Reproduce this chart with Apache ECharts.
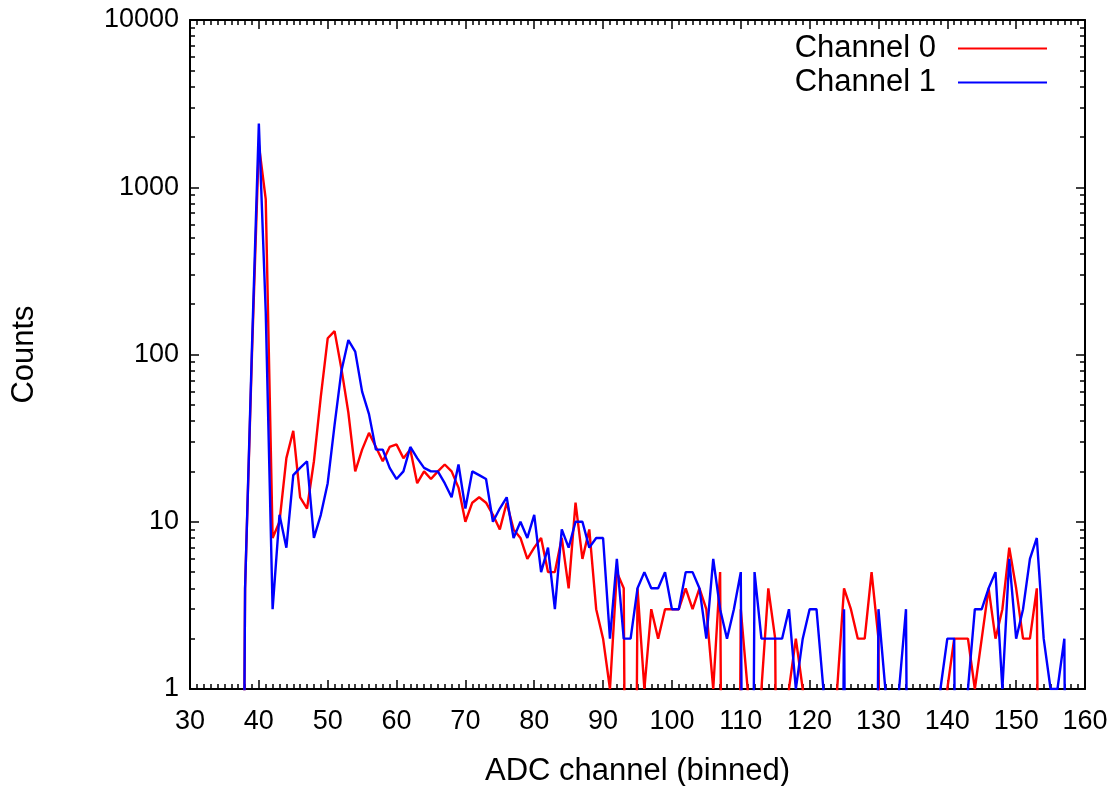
<!DOCTYPE html>
<html>
<head>
<meta charset="utf-8">
<script src="https://cdn.jsdelivr.net/npm/echarts@6/dist/echarts.min.js"></script>
<style>
  html, body { margin: 0; padding: 0; background: #fff; }
  #chart { width: 1120px; height: 786px; }
</style>
</head>
<body>
<div id="chart"></div>
<script>
// counts per binned ADC channel, starting at channel 37
const firstChannel = 37;
const channel0 = [
  0, 4, 100, 1800, 850, 8, 10, 24, 35, 14,
  12, 23, 56, 125, 138, 82, 45, 20, 27, 34,
  28, 23, 28, 29, 24, 27, 17, 20, 18, 20,
  22, 20, 16, 10, 13, 14, 13, 11, 9, 13,
  9, 8, 6, 7, 8, 5, 5, 8, 4, 13,
  6, 9, 3, 2, 1, 5, 4, 0, 4, 1,
  3, 2, 3, 3, 3, 4, 3, 4, 3, 1,
  5, 0, 0, 3, 1, 0, 1, 4, 2, 0,
  1, 2, 1, 0, 0, 0, 0, 1, 4, 3,
  2, 2, 5, 2, 0, 0, 0, 0, 0, 0,
  0, 0, 0, 1, 2, 2, 2, 1, 2, 4,
  2, 3, 7, 4, 2, 2, 4, 0, 0, 0,
  0, 0
];
const channel1 = [
  0, 4, 110, 2400, 180, 3, 11, 7, 19, 21,
  23, 8, 11, 17, 38, 80, 122, 104, 60, 44,
  27, 27, 21, 18, 20, 28, 24, 21, 20, 20,
  17, 14, 22, 12, 20, 19, 18, 10, 12, 14,
  8, 10, 8, 11, 5, 7, 3, 9, 7, 10,
  10, 7, 8, 8, 2, 6, 2, 2, 4, 5,
  4, 4, 5, 3, 3, 5, 5, 4, 2, 6,
  3, 2, 3, 5, 0, 5, 2, 2, 2, 2,
  3, 1, 2, 3, 3, 1, 0, 0, 3, 0,
  0, 0, 0, 3, 1, 0, 1, 3, 0, 0,
  0, 0, 1, 2, 2, 0, 1, 3, 3, 4,
  5, 1, 6, 2, 3, 6, 8, 2, 1, 1,
  2, 0
];
const seriesNames = ['Channel 0', 'Channel 1'];
const yMinorTicks = [
  2, 3, 4, 5, 6, 7, 8, 9,
  20, 30, 40, 50, 60, 70, 80, 90,
  200, 300, 400, 500, 600, 700, 800, 900,
  2000, 3000, 4000, 5000, 6000, 7000, 8000, 9000
];

// empty bins fall off the bottom of the log axis, like gnuplot does
const toPoints = counts => counts.map((c, i) => [firstChannel + i, c > 0 ? c : 1e-6]);

const font = 'Liberation Sans, Arial, Helvetica, sans-serif';
const black = { color: '#000', width: 2 };
const tickStyle = { color: '#000', width: 1.5 };
const gridBox = { left: 190, right: 35, top: 20, bottom: 97, outerBoundsMode: 'none', containLabel: false };

const xCommon = {
  type: 'value', min: 30, max: 160, interval: 10,
  axisLine: { onZero: false, lineStyle: black },
  axisTick: { inside: true, length: 9, lineStyle: tickStyle },
  minorTick: { show: true, splitNumber: 10, length: 5, lineStyle: tickStyle },
  splitLine: { show: false }
};

const myChart = echarts.init(document.getElementById('chart'));
myChart.setOption({
  animation: false,
  grid: [Object.assign({}, gridBox), Object.assign({}, gridBox)],
  legend: {
    data: seriesNames,
    orient: 'vertical',
    right: 68,
    top: 28,
    align: 'right',
    icon: 'rect',
    itemWidth: 89,
    itemHeight: 2,
    itemGap: 3,
    textStyle: { fontFamily: font, fontSize: 31, color: '#000', padding: [0, 17, 0, 0] }
  },
  xAxis: [
    Object.assign({}, xCommon, {
      gridIndex: 0, position: 'bottom',
      name: 'ADC channel (binned)', nameLocation: 'middle', nameGap: 67,
      nameTextStyle: { fontFamily: font, fontSize: 31, color: '#000' },
      axisLabel: { fontFamily: font, fontSize: 27, color: '#000', margin: 19 }
    }),
    Object.assign({}, xCommon, { gridIndex: 0, position: 'top', axisLabel: { show: false } }),
    { type: 'value', gridIndex: 1, min: 0, max: 1, show: false }
  ],
  yAxis: [
    {
      type: 'log', logBase: 10, min: 1, max: 10000, gridIndex: 0, position: 'left',
      name: 'Counts', nameLocation: 'middle', nameGap: 150,
      nameTextStyle: { fontFamily: font, fontSize: 31, color: '#000' },
      axisLine: { lineStyle: black },
      axisTick: { inside: true, length: 9, lineStyle: tickStyle },
      axisLabel: {
        fontFamily: font, fontSize: 27, color: '#000', margin: 11,
        formatter: v => String(Math.round(v))
      },
      splitLine: { show: false }
    },
    {
      type: 'log', logBase: 10, min: 1, max: 10000, gridIndex: 0, position: 'right',
      axisLine: { lineStyle: black },
      axisTick: { inside: true, length: 9, lineStyle: tickStyle },
      axisLabel: { show: false },
      splitLine: { show: false }
    },
    {
      type: 'value', min: 0, max: 4, gridIndex: 1, position: 'left',
      axisLine: { show: false },
      axisTick: { inside: true, length: 5, customValues: yMinorTicks.map(Math.log10), lineStyle: tickStyle },
      axisLabel: { show: false },
      splitLine: { show: false }
    },
    {
      type: 'value', min: 0, max: 4, gridIndex: 1, position: 'right',
      axisLine: { show: false },
      axisTick: { inside: true, length: 5, customValues: yMinorTicks.map(Math.log10), lineStyle: tickStyle },
      axisLabel: { show: false },
      splitLine: { show: false }
    }
  ],
  series: [
    {
      name: seriesNames[0], type: 'line', xAxisIndex: 0, yAxisIndex: 0,
      data: toPoints(channel0), showSymbol: false, symbol: 'none', clip: true,
      color: '#ff0000', lineStyle: { color: '#ff0000', width: 2.4 }
    },
    {
      name: seriesNames[1], type: 'line', xAxisIndex: 0, yAxisIndex: 0,
      data: toPoints(channel1), showSymbol: false, symbol: 'none', clip: true,
      color: '#0000ff', lineStyle: { color: '#0000ff', width: 2.4 }
    }
  ]
});
</script>
</body>
</html>
